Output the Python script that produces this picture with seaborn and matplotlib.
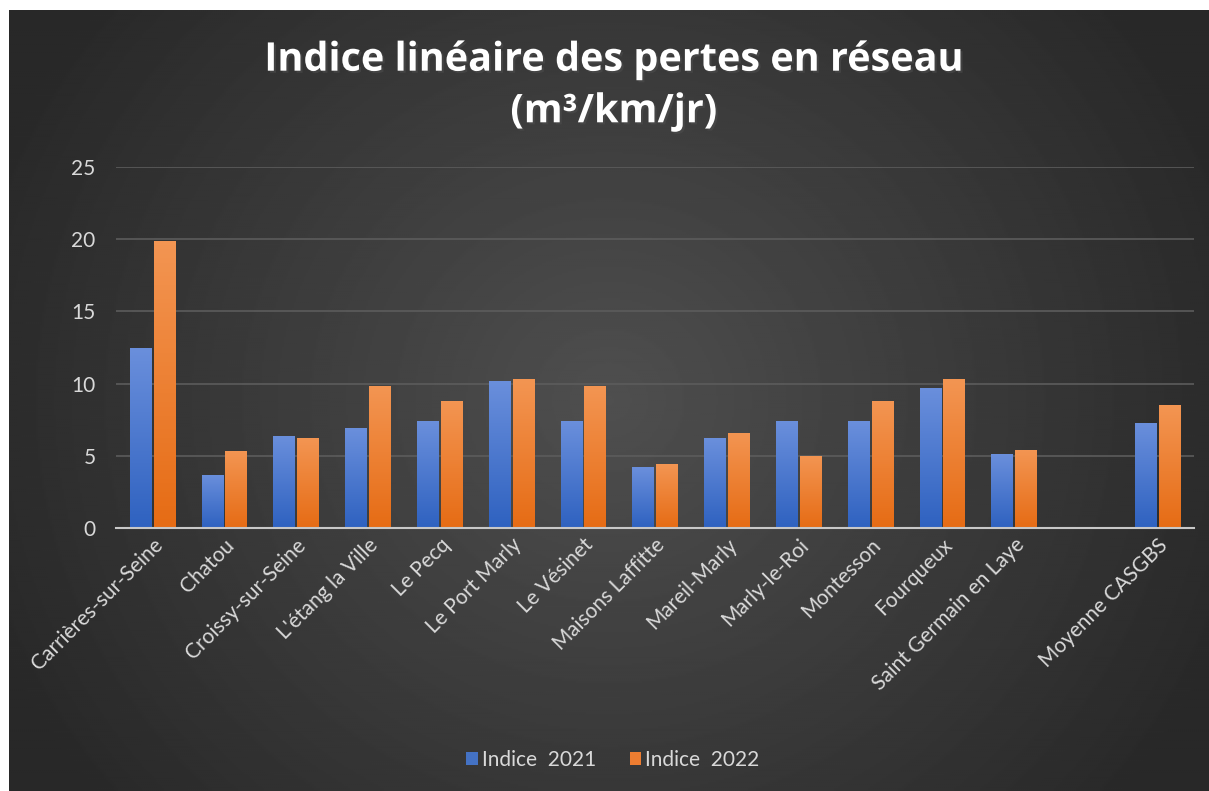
import numpy as np
import pandas as pd
import seaborn as sns
import matplotlib
matplotlib.use("Agg")
from matplotlib import pyplot as plt
from matplotlib import patheffects
from matplotlib.colors import LinearSegmentedColormap

communes = [
    "Carrières-sur-Seine", "Chatou", "Croissy-sur-Seine", "L'étang la Ville",
    "Le Pecq", "Le Port Marly", "Le Vésinet", "Maisons Laffitte",
    "Mareil-Marly", "Marly-le-Roi", "Montesson", "Fourqueux",
    "Saint Germain en Laye", "", "Moyenne CASGBS",
]
indice_2021 = [12.5, 3.7, 6.4, 6.9, 7.4, 10.2, 7.4, 4.2, 6.2, 7.4, 7.4, 9.7, 5.1, np.nan, 7.3]
indice_2022 = [19.9, 5.3, 6.2, 9.8, 8.8, 10.3, 9.8, 4.4, 6.6, 5.0, 8.8, 10.3, 5.4, np.nan, 8.5]
series = ["Indice  2021", "Indice  2022"]
y_ticks = [0, 5, 10, 15, 20, 25]

df = pd.DataFrame({
    "commune": communes * 2,
    "serie": [series[0]] * len(communes) + [series[1]] * len(communes),
    "valeur": indice_2021 + indice_2022,
})

sns.set_theme(style="dark")
plt.rcParams["font.family"] = ["Lato", "DejaVu Sans"]

fig = plt.figure(figsize=(12.09, 7.91), dpi=100)
fig.patch.set_facecolor("white")

# radial dark background
bg = fig.add_axes([9 / 1209, 0, 1 - 9 / 1209, 1 - 10 / 791])
bg.set_axis_off()
yy, xx = np.mgrid[0:1:400j, 0:1:600j]
r = np.sqrt(((xx - 0.5) / 0.55) ** 2 + ((yy - 0.5) / 0.8) ** 2)
shade = np.clip(0.31 - 0.15 * r, 0.16, 0.31)
bg.imshow(shade, cmap="gray", vmin=0, vmax=1, aspect="auto", extent=[0, 1, 0, 1])

ax = fig.add_axes([116.5 / 1209, 263 / 791, 1077 / 1209, 361 / 791])
ax.patch.set_alpha(0)

sns.barplot(data=df, x="commune", y="valeur", hue="serie", order=communes,
            palette=["#4472c4", "#ed7d31"], width=0.66, gap=0.1, ax=ax,
            saturation=1, legend=True, linewidth=0, edgecolor="none")

grads = {
    "#4472c4": LinearSegmentedColormap.from_list("b", ["#2f62c0", "#6a8fdc"]),
    "#ed7d31": LinearSegmentedColormap.from_list("o", ["#e66c15", "#f39552"]),
}
for p in list(ax.patches):
    h = p.get_height()
    if not np.isfinite(h) or h <= 0:
        continue
    fc = matplotlib.colors.to_hex(p.get_facecolor())
    cm = grads.get(fc)
    if cm is None:
        continue
    x0, w = p.get_x(), p.get_width()
    im = ax.imshow(np.linspace(0, 1, 64).reshape(-1, 1), cmap=cm, origin="lower",
                   extent=[x0, x0 + w, 0, h], aspect="auto", zorder=p.get_zorder() + 0.1)
    im.set_clip_path(p)

ax.set_xlim(-0.5, len(communes) - 0.5)
ax.set_ylim(0, 25)
ax.set_yticks(y_ticks)
ax.set_xlabel("")
ax.set_ylabel("")
ax.grid(axis="y", color="#5c5c5c", linewidth=1.2)
ax.set_axisbelow(True)
for s in ["top", "right", "left"]:
    ax.spines[s].set_visible(False)
ax.spines["bottom"].set_color("#c8c8c8")
ax.spines["bottom"].set_linewidth(1.5)
ax.spines["bottom"].set_zorder(5)
ax.tick_params(axis="y", colors="#d9d9d9", labelsize=15, length=0, pad=15)
ax.tick_params(axis="x", colors="#d9d9d9", labelsize=15, length=0, pad=5)
plt.setp(ax.get_xticklabels(), rotation=45, ha="right", rotation_mode="anchor")

leg = ax.legend(loc="center", bbox_to_anchor=(0.507, 31 / 791), bbox_transform=fig.transFigure,
                ncol=2, frameon=False, fontsize=15, handlelength=0.55, handleheight=0.55,
                handletextpad=0.2, columnspacing=1.6)
for t in leg.get_texts():
    t.set_color("#d9d9d9")

fig.text(0.508, 1 - 86 / 791, "Indice linéaire des pertes en réseau\n(m³/km/jr)",
         ha="center", va="center", fontsize=28.5, fontweight="bold", color="white",
         linespacing=1.42, family=["Open Sans", "DejaVu Sans"],
         path_effects=[patheffects.withSimplePatchShadow(offset=(1.5, -1.5), alpha=0.6)])

fig.savefig("out.png", dpi=100)
